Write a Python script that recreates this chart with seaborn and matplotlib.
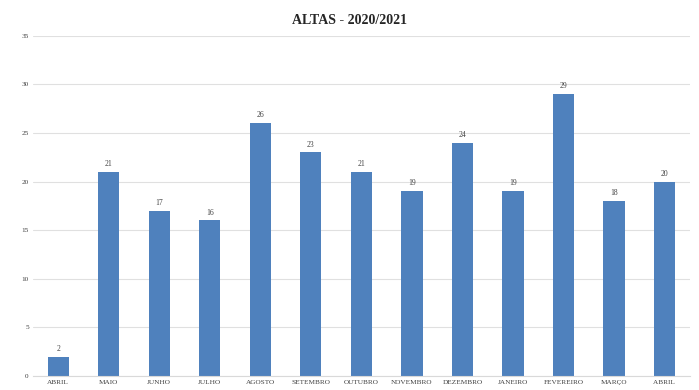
import matplotlib
matplotlib.use("Agg")
import matplotlib.pyplot as plt
import seaborn as sns
import pandas as pd

months = ["ABRIL", "MAIO", "JUNHO", "JULHO", "AGOSTO", "SETEMBRO", "OUTUBRO",
          "NOVEMBRO", "DEZEMBRO", "JANEIRO", "FEVEREIRO", "MARÇO", "ABRIL "]
altas = [2, 21, 17, 16, 26, 23, 21, 19, 24, 19, 29, 18, 20]

df = pd.DataFrame({"Mes": months, "Altas": altas})

sns.set_style("white")
plt.rcParams["font.family"] = ["Liberation Serif", "DejaVu Serif"]

fig = plt.figure(figsize=(6.99, 3.9), dpi=100)
ax = fig.add_axes([0.047, 0.036, 0.94, 0.872])

sns.barplot(ax=ax, data=df, x="Mes", y="Altas", color="#4F81BD",
            saturation=1, width=0.42, order=months, linewidth=0)

for i, v in enumerate(altas):
    ax.text(i, v + 0.4, str(v), ha="center", va="bottom", fontsize=5.5, color="#404040")

ax.set_ylim(0, 35)
ax.set_yticks(range(0, 36, 5))
ax.set_xlim(-0.5, len(months) - 0.5)
ax.yaxis.grid(True, color="#E0E0E0", linewidth=0.8)
ax.set_axisbelow(True)
ax.set_xlabel("")
ax.set_ylabel("")
ax.tick_params(axis="both", length=0, labelsize=5.2, colors="#404040", pad=3)
for s in ["top", "right", "left"]:
    ax.spines[s].set_visible(False)
ax.spines["bottom"].set_color("#D9D9D9")

fig.suptitle("ALTAS - 2020/2021", fontsize=10, fontweight="bold", y=0.965)

fig.savefig("out.png", dpi=100)
